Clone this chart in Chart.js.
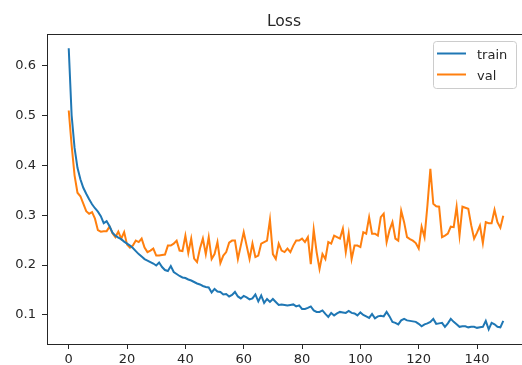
<!DOCTYPE html>
<html>
<head>
<meta charset="utf-8">
<title>Loss</title>
<script src="https://cdn.jsdelivr.net/npm/chart.js"></script>
<style>
    html, body { margin: 0; padding: 0; background: #fff; overflow: hidden; }
    #wrap { width: 522px; height: 365px; overflow: hidden; }
</style>
</head>
<body>
<div id="wrap"><canvas id="loss-chart" width="530" height="365"></canvas></div>
<script>
// 図から読み取った値 (epoch 0..149)
const trainLoss = [
    0.635, 0.500, 0.435, 0.395, 0.372, 0.355, 0.343, 0.332, 0.322, 0.314,
    0.307, 0.298, 0.284, 0.288, 0.278, 0.265, 0.259, 0.255, 0.252, 0.247,
    0.243, 0.239, 0.234, 0.228, 0.222, 0.217, 0.212, 0.209, 0.206, 0.203,
    0.199, 0.205, 0.196, 0.190, 0.188, 0.198, 0.186, 0.182, 0.178, 0.175,
    0.174, 0.171, 0.169, 0.166, 0.163, 0.161, 0.158, 0.156, 0.155, 0.145,
    0.152, 0.147, 0.146, 0.141, 0.142, 0.137, 0.140, 0.146, 0.137, 0.133,
    0.138, 0.135, 0.131, 0.133, 0.141, 0.127, 0.139, 0.124, 0.132, 0.126,
    0.132, 0.126, 0.120, 0.121, 0.120, 0.119, 0.120, 0.121, 0.117, 0.119,
    0.112, 0.112, 0.114, 0.117, 0.109, 0.106, 0.106, 0.109, 0.102, 0.096,
    0.104, 0.099, 0.103, 0.106, 0.105, 0.104, 0.108, 0.104, 0.103, 0.099,
    0.105, 0.100, 0.097, 0.094, 0.102, 0.093, 0.097, 0.098, 0.097, 0.106,
    0.097, 0.086, 0.084, 0.081, 0.089, 0.092, 0.089, 0.088, 0.087, 0.086,
    0.082, 0.077, 0.081, 0.083, 0.086, 0.092, 0.082, 0.083, 0.084, 0.076,
    0.083, 0.092, 0.086, 0.081, 0.076, 0.077, 0.077, 0.075, 0.076, 0.076,
    0.074, 0.075, 0.076, 0.088, 0.071, 0.084, 0.081, 0.076, 0.075, 0.088
];
const valLoss = [
    0.510, 0.440, 0.380, 0.345, 0.338, 0.323, 0.308, 0.303, 0.306, 0.293,
    0.270, 0.267, 0.268, 0.268, 0.277, 0.264, 0.256, 0.267, 0.253, 0.266,
    0.241, 0.235, 0.239, 0.249, 0.246, 0.253, 0.235, 0.226, 0.229, 0.233,
    0.219, 0.219, 0.220, 0.221, 0.239, 0.239, 0.243, 0.249, 0.229, 0.228,
    0.259, 0.224, 0.253, 0.213, 0.206, 0.233, 0.253, 0.222, 0.256, 0.212,
    0.222, 0.246, 0.204, 0.219, 0.226, 0.245, 0.249, 0.249, 0.212, 0.239,
    0.266, 0.239, 0.212, 0.243, 0.216, 0.219, 0.243, 0.246, 0.249, 0.291,
    0.222, 0.212, 0.243, 0.229, 0.226, 0.233, 0.226, 0.239, 0.249, 0.249,
    0.253, 0.246, 0.256, 0.202, 0.271, 0.226, 0.192, 0.222, 0.212, 0.246,
    0.243, 0.259, 0.256, 0.253, 0.273, 0.226, 0.263, 0.212, 0.239, 0.239,
    0.236, 0.266, 0.263, 0.296, 0.263, 0.263, 0.259, 0.296, 0.303, 0.246,
    0.270, 0.286, 0.253, 0.249, 0.309, 0.286, 0.256, 0.252, 0.249, 0.244,
    0.233, 0.277, 0.256, 0.320, 0.393, 0.323, 0.318, 0.317, 0.256, 0.259,
    0.263, 0.277, 0.276, 0.317, 0.259, 0.317, 0.315, 0.313, 0.280, 0.253,
    0.265, 0.279, 0.244, 0.286, 0.284, 0.284, 0.311, 0.286, 0.275, 0.299
];
const xTicks = [0, 20, 40, 60, 80, 100, 120, 140];
const yTicks = [0.1, 0.2, 0.3, 0.4, 0.5, 0.6];

const FONT = '"DejaVu Sans", "Liberation Sans", sans-serif';
const TEXT_COLOR = '#262626';
const AXIS_COLOR = '#262626';

function toPoints(values) {
    return values.map((v, i) => ({ x: i, y: v }));
}

// タイトル・上枠・凡例を描く
const frameAndLegend = {
    id: 'frameAndLegend',
    afterDraw(chart) {
        const ctx = chart.ctx;
        const a = chart.chartArea;
        ctx.save();

        // 上と右の枠線
        ctx.strokeStyle = AXIS_COLOR;
        ctx.lineWidth = 1;
        ctx.beginPath();
        ctx.moveTo(a.left, a.top + 0.5);
        ctx.lineTo(a.right, a.top + 0.5);
        ctx.lineTo(a.right, a.bottom);
        ctx.stroke();

        // タイトル
        ctx.fillStyle = TEXT_COLOR;
        ctx.font = '15.6px ' + FONT;
        ctx.textAlign = 'center';
        ctx.textBaseline = 'alphabetic';
        ctx.fillText('Loss', (a.left + a.right) / 2 - 2, 26);

        // 凡例
        const bx = 433, by = 41, bw = 83, bh = 47;
        ctx.beginPath();
        ctx.roundRect(bx + 0.5, by + 0.5, bw, bh, 3);
        ctx.fillStyle = 'rgba(255,255,255,0.8)';
        ctx.fill();
        ctx.strokeStyle = '#cccccc';
        ctx.stroke();

        const rows = [53.5, 74.5];
        chart.data.datasets.forEach((ds, i) => {
            const y = rows[i];
            ctx.strokeStyle = ds.borderColor;
            ctx.lineWidth = 2;
            ctx.beginPath();
            ctx.moveTo(437, y);
            ctx.lineTo(466, y);
            ctx.stroke();
            ctx.fillStyle = TEXT_COLOR;
            ctx.font = '13px ' + FONT;
            ctx.textAlign = 'left';
            ctx.textBaseline = 'alphabetic';
            ctx.fillText(ds.label, 477, y + 5);
        });
        ctx.restore();
    }
};

const ctx = document.getElementById('loss-chart').getContext('2d');
const lossChart = new Chart(ctx, {
    type: 'line',
    data: {
        datasets: [
            {
                label: 'train',
                data: toPoints(trainLoss),
                borderColor: '#1f77b4',
                borderWidth: 2,
                pointRadius: 0,
                tension: 0,
                fill: false
            },
            {
                label: 'val',
                data: toPoints(valLoss),
                borderColor: '#ff7f0e',
                borderWidth: 2,
                pointRadius: 0,
                tension: 0,
                fill: false
            }
        ]
    },
    options: {
        responsive: false,
        animation: false,
        devicePixelRatio: 1,
        layout: { padding: { top: 34, right: 5, left: 0, bottom: 0 } },
        plugins: {
            legend: { display: false },
            title: { display: false },
            tooltip: { enabled: false }
        },
        scales: {
            x: {
                type: 'linear',
                min: -7.45,
                max: 156.45,
                afterBuildTicks: (s) => { s.ticks = xTicks.map(v => ({ value: v })); },
                afterFit: (s) => { s.height = 21; s.paddingLeft = 0; s.paddingRight = 0; },
                grid: { drawOnChartArea: false, drawTicks: true, tickLength: 5, tickColor: AXIS_COLOR },
                border: { display: true, color: AXIS_COLOR, width: 1 },
                ticks: {
                    color: TEXT_COLOR,
                    font: { family: FONT, size: 13 },
                    padding: 3,
                    maxRotation: 0,
                    autoSkip: false,
                    callback: (v) => String(v)
                }
            },
            y: {
                type: 'linear',
                min: 0.0416,
                max: 0.6635,
                afterBuildTicks: (s) => { s.ticks = yTicks.map(v => ({ value: v })); },
                afterFit: (s) => { s.width = 47; s.paddingTop = 0; s.paddingBottom = 0; },
                grid: { drawOnChartArea: false, drawTicks: true, tickLength: 5, tickColor: AXIS_COLOR },
                border: { display: true, color: AXIS_COLOR, width: 1 },
                ticks: {
                    color: TEXT_COLOR,
                    font: { family: FONT, size: 13 },
                    padding: 6,
                    autoSkip: false,
                    callback: (v) => v.toFixed(1)
                }
            }
        }
    },
    plugins: [frameAndLegend]
});
</script>
</body>
</html>
